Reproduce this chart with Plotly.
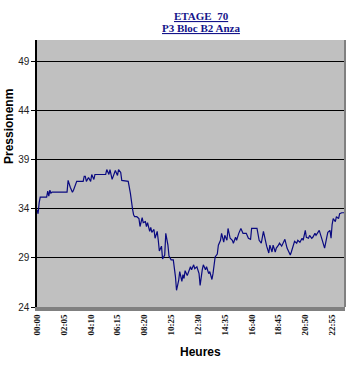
import plotly.graph_objects as go

# Traced readings (time of day, pressure)
times = ["00:00","00:05","00:10","00:15","00:45","00:50","00:55","01:00","01:05","01:10",
         "02:20","02:25","02:35","02:45","02:50","03:05","03:35","03:40","03:45","03:50",
         "04:00","04:10","04:15","04:25","04:30","05:20","05:25","05:35","05:40","05:50",
         "06:05","06:15","06:20","06:30","06:35","07:05","07:15","07:20","07:25","07:30",
         "07:35","07:45","07:55","08:00","08:10","08:15","08:25","08:30","08:35","08:45",
         "08:50","08:55","09:05","09:10","09:20","09:25","09:30","09:40","09:45","09:55",
         "10:00","10:10","10:15","10:25","10:35","10:45","10:50","11:00","11:05","11:15",
         "11:20","11:25","11:30","11:40","11:45","11:55","12:00","12:10","12:15","12:25",
         "12:35","12:40","12:50","12:55","13:05","13:10","13:20","13:25","13:35","13:40",
         "13:50","14:00","14:05","14:15","14:20","14:30","14:35","14:45","14:50","15:00",
         "15:10","15:15","15:25","15:30","15:40","15:50","16:00","16:15","16:25","16:35",
         "16:40","17:05","17:15","17:25","17:35","17:45","17:50","18:00","18:05","18:15",
         "18:20","18:30","18:35","18:45","18:50","19:00","19:10","19:15","19:25","19:30",
         "19:40","19:45","19:55","20:00","20:10","20:15","20:25","20:35","20:40","20:50",
         "20:55","21:05","21:10","21:20","21:25","21:35","21:40","21:50","21:55","22:05",
         "22:10","22:20","22:30","22:35","22:45","22:50","22:55","23:00","23:10","23:15",
         "23:25","23:30","23:40","23:50","23:55"]
pression = [33.9,33.5,34.6,35.2,35.2,35.8,35.3,35.9,35.6,35.7,
            35.7,36.9,36.2,35.7,35.9,36.8,36.8,37.3,37.3,36.8,
            37.2,36.8,37.5,37.0,37.5,37.5,38.0,37.5,38.0,37.0,
            37.9,37.4,38.0,37.7,36.9,36.8,35.6,34.6,34.0,33.4,
            33.2,33.2,33.0,32.2,33.1,32.6,32.7,32.2,32.6,31.7,
            32.1,31.6,31.9,31.0,31.7,30.8,29.7,30.2,28.9,29.3,
            31.5,30.3,29.2,28.8,28.8,27.1,25.7,26.7,27.6,26.6,
            27.3,26.9,27.7,27.2,27.5,28.1,27.8,28.3,27.9,28.1,
            27.4,26.2,27.8,28.3,27.8,28.1,27.4,27.6,26.8,27.4,
            29.1,29.4,30.3,30.8,31.5,30.6,31.3,30.8,32.0,31.0,
            30.8,30.5,31.1,30.8,31.5,32.0,31.5,31.5,31.0,30.9,
            32.0,32.0,30.8,30.5,31.7,30.5,30.2,29.5,30.3,29.6,
            30.3,29.6,30.0,30.3,30.5,30.2,30.7,30.9,30.0,29.8,
            29.3,29.6,30.3,30.7,30.5,30.8,30.6,31.0,30.8,31.8,
            31.1,31.0,31.3,31.0,31.1,31.5,31.3,31.6,31.8,31.1,
            30.8,30.0,31.1,31.6,31.8,31.0,32.4,33.0,32.7,33.2,
            33.0,33.5,33.6,33.6,33.6]
tick_labels = ["00:00","02:05","04:10","06:15","08:20","10:25","12:30",
               "14:35","16:40","18:45","20:50","22:55"]
y_ticks = [24, 29, 34, 39, 44, 49]

def to_min(t):
    h, m = t.split(":")
    return int(h) * 60 + int(m)

x = [to_min(t) for t in times]
tickvals = [to_min(t) for t in tick_labels]

W, H = 357, 376
l, r, t, b = 37, 12, 40, 69
pw, ph = W - l - r, H - t - b

def px(xp, yp):
    return (xp - l) / pw, 1 - (yp - t) / ph

fig = go.Figure()
fig.add_trace(go.Scatter(x=x, y=pression, mode="lines",
                         line=dict(color="#0a0a80", width=1.2),
                         hoverinfo="skip", showlegend=False))

ann = []
for text, xp, yp, fam, size, col, ang in [
        ("<b><u>ETAGE  70</u></b>", 201, 16.5, "Liberation Serif", 11, "#14148a", 0),
        ("<b><u>P3 Bloc B2 Anza</u></b>", 201, 28, "Liberation Serif", 11, "#14148a", 0),
        ("<b>Pressionenm</b>", 9, 127, "Liberation Sans", 12, "black", -90),
        ("<b>Heures</b>", 200, 352, "Liberation Sans", 12, "black", 0)]:
    ax_, ay_ = px(xp, yp)
    ann.append(dict(text=text, x=ax_, y=ay_, xref="paper", yref="paper",
                    xanchor="center", yanchor="middle", showarrow=False,
                    textangle=ang, font=dict(family=fam, size=size, color=col)))

fig.update_layout(
    width=W, height=H,
    margin=dict(l=l, r=r, t=t, b=b, autoexpand=False),
    paper_bgcolor="white", plot_bgcolor="#C0C0C0",
    showlegend=False,
    xaxis=dict(range=[0, 1435], tickvals=tickvals,
               ticktext=["<b>%s</b>" % s for s in tick_labels],
               tickangle=-90, showgrid=False, zeroline=False,
               showline=True, linecolor="#808080", linewidth=4,
               ticks="", tickfont=dict(family="Liberation Serif", size=9, color="#111"),
               fixedrange=True),
    yaxis=dict(range=[24, 51.2], tickvals=y_ticks,
               showgrid=True, gridcolor="black", gridwidth=1.3,
               zeroline=False, showline=True, linecolor="black", linewidth=1.5,
               ticks="outside", ticklen=4, tickcolor="black",
               tickfont=dict(family="Liberation Sans", size=10, color="#222"),
               fixedrange=True),
    annotations=ann,
)

# right border of the plot area
fig.add_shape(type="line", xref="paper", yref="paper", x0=1, x1=1, y0=0, y1=1,
              line=dict(color="#808080", width=2))

fig.write_html("out.html", config={"displayModeBar": False},
               post_script="document.body.style.margin='0';")
